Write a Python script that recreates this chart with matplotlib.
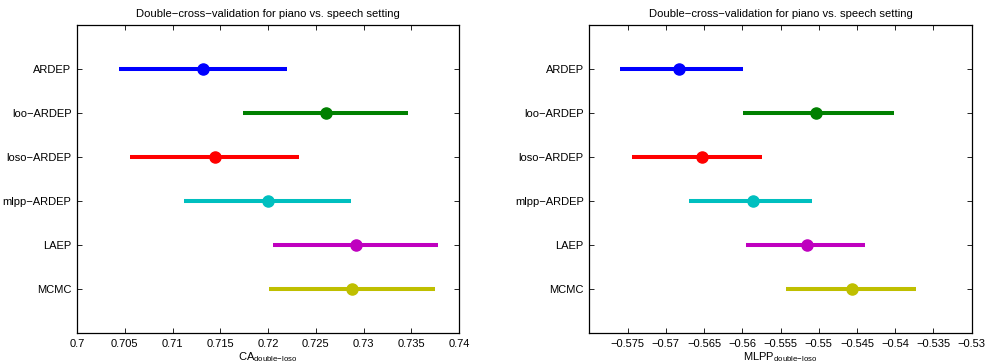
import matplotlib
matplotlib.use("Agg")
import matplotlib.pyplot as plt
from matplotlib.ticker import FuncFormatter

plt.rcParams['font.family'] = ['Liberation Sans', 'DejaVu Sans']
plt.rcParams['mathtext.fontset'] = 'custom'
plt.rcParams['mathtext.rm'] = 'Liberation Sans'

methods = ['ARDEP', 'loo\u2212ARDEP', 'loso\u2212ARDEP', 'mlpp\u2212ARDEP', 'LAEP', 'MCMC']
colors = ['#0000ff', '#008000', '#ff0000', '#00bfbf', '#bf00bf', '#bfbf00']

# CA_double-loso: mean, lower, upper
ca_mean = [0.7132, 0.7261, 0.7145, 0.7200, 0.7292, 0.7288]
ca_low = [0.7044, 0.7174, 0.7056, 0.7112, 0.7205, 0.7201]
ca_high = [0.7220, 0.7347, 0.7232, 0.7287, 0.7378, 0.7375]

# MLPP_double-loso: mean, lower, upper
mlpp_mean = [-0.5683, -0.5503, -0.5652, -0.5586, -0.5516, -0.5457]
mlpp_low = [-0.5760, -0.5599, -0.5744, -0.5670, -0.5595, -0.5543]
mlpp_high = [-0.5599, -0.5401, -0.5574, -0.5509, -0.5440, -0.5373]

ca_ticks = [0.7, 0.705, 0.71, 0.715, 0.72, 0.725, 0.73, 0.735, 0.74]
mlpp_ticks = [-0.575, -0.57, -0.565, -0.56, -0.555, -0.55, -0.545, -0.54, -0.535, -0.53]

title = 'Double\u2212cross\u2212validation for piano vs. speech setting'


def matlab_fmt(v, pos):
    s = ('%.3f' % v).rstrip('0').rstrip('.')
    return s.replace('-', '\u2212')


fig = plt.figure(figsize=(9.85, 3.63), dpi=100)
ax1 = fig.add_axes([77 / 985, 30 / 363, 382 / 985, 308 / 363])
ax2 = fig.add_axes([589.3 / 985, 30 / 363, 382.4 / 985, 308 / 363])

panels = [
    (ax1, ca_mean, ca_low, ca_high, ca_ticks, (0.7, 0.74), r'CA$_{\mathrm{double{-}loso}}$'),
    (ax2, mlpp_mean, mlpp_low, mlpp_high, mlpp_ticks, (-0.58, -0.53), r'MLPP$_{\mathrm{double{-}loso}}$'),
]

for ax, mean, low, high, ticks, xlim, xlabel in panels:
    for i in range(len(methods)):
        y = i + 1
        ax.plot([low[i], high[i]], [y, y], color=colors[i], linewidth=2.9, solid_capstyle='butt')
        ax.plot(mean[i], y, 'o', color=colors[i], markersize=8)
    ax.set_xlim(xlim)
    ax.set_ylim(7, 0)
    ax.set_yticks(range(1, len(methods) + 1))
    ax.set_yticklabels(methods)
    ax.set_xticks(ticks)
    ax.xaxis.set_major_formatter(FuncFormatter(matlab_fmt))
    ax.tick_params(direction='in', top=True, right=True, length=3.5, width=0.6,
                   labelsize=8, pad=4)
    for sp in ax.spines.values():
        sp.set_linewidth(0.9)
    ax.set_title(title, fontsize=8.1, pad=6)
    ax.set_xlabel(xlabel, fontsize=8, labelpad=1)

fig.savefig('out.png', dpi=100)
